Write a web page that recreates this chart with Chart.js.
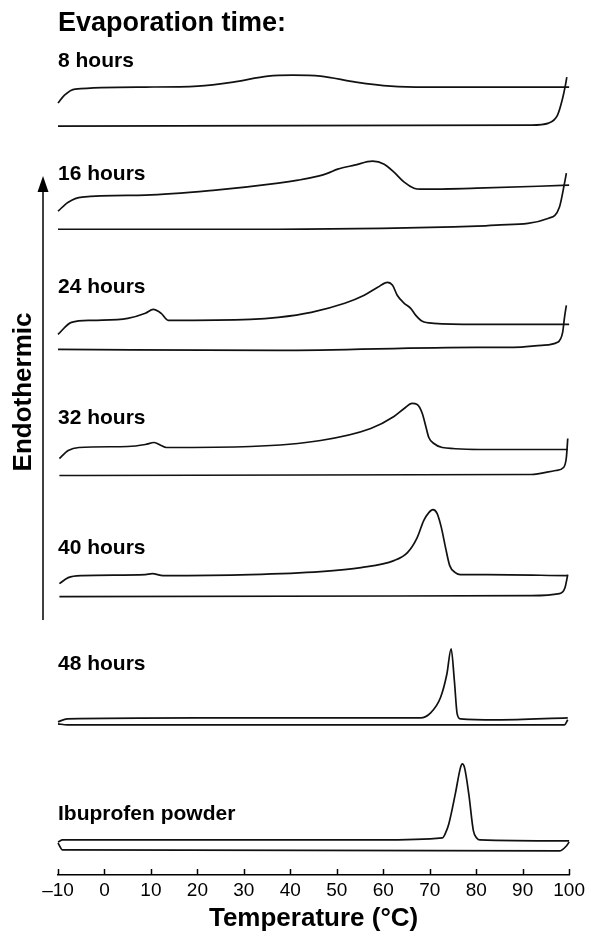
<!DOCTYPE html>
<html>
<head>
<meta charset="utf-8">
<script src="https://cdn.jsdelivr.net/npm/chart.js@4.4.1/dist/chart.umd.min.js"></script>
<style>
  html, body { margin: 0; padding: 0; background: #fff; }
  #wrap { width: 591px; height: 941px; position: relative; }
</style>
</head>
<body>
<div id="wrap"><canvas id="dsc"></canvas></div>
<script>
// DSC thermograms, [temperature (°C), heat flow (offset, a.u.)]
// heating run (upper trace) and baseline/cooling run (lower trace)
const h8Heat = [[-10,77.8],[-8.6,78.6],[-6.3,79.2],[8.8,79.4],[20.1,79.5],[27.7,79.9],[35.2,80.5],[40.5,80.6],[46.5,80.5],[54.1,79.9],[61.6,79.5],[69.2,79.4],[100,79.4]];
const h8Base = [[-10,75.5],[91.8,75.6],[95.6,75.8],[97.5,76.6],[98.5,78.1],[99.2,79.6],[99.5,80.4]];

const h16Heat = [[-10,67.0],[-7.8,67.9],[-4.8,68.4],[8.8,68.6],[23.9,69.1],[37.4,69.8],[41.7,70.1],[46,70.5],[48.1,70.8],[50.2,71.2],[53.8,71.6],[57.7,72.0],[60.2,71.7],[62.3,70.9],[64.5,69.9],[66.6,69.3],[68,69.2],[80.1,69.3],[100,69.6]];
const h16Base = [[-10,65.2],[37.4,65.2],[80.1,65.5],[84.3,65.6],[95.6,66.3],[97.9,67.4],[99,69.8],[99.4,70.8]];

const h24Heat = [[-10,54.7],[-7.1,55.9],[-2.5,56.1],[5,56.3],[8.8,56.8],[10.5,57.2],[12.2,56.8],[13.7,56.1],[31.4,56.2],[37.4,56.4],[44.5,56.9],[51.7,57.8],[55.9,58.6],[58.8,59.4],[60.9,59.9],[62,59.6],[63,58.6],[64.5,57.8],[65.9,57.3],[67,56.6],[68.4,56.0],[70.9,55.8],[80.1,55.7],[100,55.7]];
const h24Base = [[-10,53.2],[37.4,53.1],[80.1,53.4],[88,53.4],[94.1,53.6],[97.5,53.9],[98.6,54.9],[99,56.4],[99.4,57.6]];

const h32Heat = [[-9.7,42.3],[-7.8,43.1],[-5.5,43.4],[5,43.5],[8.8,43.7],[10.7,43.9],[12.2,43.6],[13.3,43.4],[31.4,43.5],[46.5,44.1],[57.3,45.3],[62.3,46.5],[64.5,47.3],[66.2,47.8],[67.3,47.7],[68.4,46.8],[69.1,45.6],[69.8,44.4],[70.9,43.8],[72.7,43.4],[82.3,43.2],[99.7,43.2]];
const h32Base = [[-9.7,40.6],[91.8,40.7],[97.1,41.1],[98.8,41.4],[99.4,42.4],[99.7,44.3]];

const h40Heat = [[-9.7,29.8],[-7.8,30.4],[-4.8,30.6],[8.8,30.7],[10.3,30.8],[12.6,30.6],[31.4,30.7],[46.5,31.0],[55.2,31.4],[62.3,32.1],[65.2,32.9],[67.3,34.4],[68.7,36.1],[69.8,36.9],[70.7,37.2],[71.6,36.8],[72.5,35.4],[73.4,33.4],[74.3,31.6],[75.5,30.9],[76.6,30.7],[82.3,30.7],[99.7,30.6]];
const h40Base = [[-9.7,28.5],[91.8,28.6],[97.9,28.8],[99.1,29.4],[99.7,30.7]];

const h48Heat = [[-10,16.0],[-8,16.3],[20,16.4],[61.6,16.4],[68,16.4],[70.2,16.9],[72.3,18.4],[73.7,20.8],[74.6,23.3],[75.3,20.1],[75.9,16.8],[76.6,16.3],[84.4,16.2],[99.7,16.4]];
const h48Base = [[-10,15.8],[-8,15.7],[99,15.7],[99.7,16.2]];

const ibuHeat = [[-10,4.0],[-9,4.2],[58.8,4.2],[72.7,4.4],[73.4,4.9],[74.1,5.8],[75.5,8.8],[76.6,11.4],[77,11.8],[77.5,11.4],[78.4,8.8],[79.4,5.1],[80.1,4.4],[80.8,4.2],[100,4.1]];
const ibuBase = [[-10,3.9],[-9,3.2],[97.9,3.1],[99.4,3.6],[100,4.0]];

const traceLabels = ['8 hours', '16 hours', '24 hours', '32 hours', '40 hours', '48 hours', 'Ibuprofen powder'];
const labelLevels = [81.45, 70.1, 58.8, 45.7, 32.8, 21.2, 6.15];
const xTicksMin = -10;
const xTicksMax = 100;

const curves = [h8Heat, h8Base, h16Heat, h16Base, h24Heat, h24Base, h32Heat, h32Base, h40Heat, h40Base, h48Heat, h48Base, ibuHeat, ibuBase];

const FONT = '"Liberation Sans", Arial, Helvetica, sans-serif';

// labels, arrow and inward tick marks
const annotations = {
  id: 'annotations',
  afterDraw(chart) {
    const ctx = chart.ctx;
    const xs = chart.scales.x;
    const ys = chart.scales.y;
    const area = chart.chartArea;
    ctx.save();
    ctx.fillStyle = '#000';
    ctx.strokeStyle = '#000';

    // tick marks pointing up
    ctx.lineWidth = 1.5;
    xs.ticks.forEach(t => {
      const px = Math.round(xs.getPixelForValue(t.value)) + 0.5;
      ctx.beginPath();
      ctx.moveTo(px, area.bottom);
      ctx.lineTo(px, area.bottom - 6);
      ctx.stroke();
    });

    // heading
    ctx.textAlign = 'left';
    ctx.textBaseline = 'alphabetic';
    ctx.font = 'bold 27px ' + FONT;
    ctx.fillText('Evaporation time:', area.left, 31);

    // trace labels
    ctx.font = 'bold 21px ' + FONT;
    traceLabels.forEach((txt, i) => {
      ctx.fillText(txt, area.left, ys.getPixelForValue(labelLevels[i]));
    });

    // Endothermic arrow
    const ax = 43;
    ctx.lineWidth = 1.5;
    ctx.beginPath();
    ctx.moveTo(ax, 620);
    ctx.lineTo(ax, 186);
    ctx.stroke();
    ctx.beginPath();
    ctx.moveTo(ax, 176);
    ctx.lineTo(ax - 5.5, 192);
    ctx.lineTo(ax + 5.5, 192);
    ctx.closePath();
    ctx.fill();

    ctx.translate(24, 392);
    ctx.rotate(-Math.PI / 2);
    ctx.textAlign = 'center';
    ctx.textBaseline = 'middle';
    ctx.font = 'bold 26px ' + FONT;
    ctx.fillText('Endothermic', 0, 0);
    ctx.restore();
  }
};

new Chart(document.getElementById('dsc'), {
  type: 'line',
  data: {
    datasets: curves.map(c => ({
      data: c.map(p => ({ x: p[0], y: p[1] })),
      borderColor: '#111',
      borderWidth: 1.7,
      pointRadius: 0,
      fill: false,
      cubicInterpolationMode: 'monotone',
      clip: false
    }))
  },
  options: {
    responsive: true,
    maintainAspectRatio: false,
    animation: false,
    layout: { padding: { left: 58, right: 18, top: 41, bottom: 9 } },
    plugins: {
      legend: { display: false },
      tooltip: { enabled: false }
    },
    scales: {
      x: {
        type: 'linear',
        min: xTicksMin,
        max: xTicksMax,
        grid: { display: false, drawTicks: false },
        border: { display: true, color: '#000', width: 1.5 },
        ticks: {
          stepSize: 10,
          padding: 6,
          color: '#000',
          font: { family: FONT, size: 19, lineHeight: 1 },
          callback: v => (v < 0 ? '\u2013' + Math.abs(v) : String(v))
        },
        title: {
          display: true,
          text: 'Temperature (°C)',
          color: '#000',
          padding: { top: 0, bottom: 0 },
          font: { family: FONT, size: 26, weight: 'bold', lineHeight: 1 }
        }
      },
      y: {
        display: false,
        min: 0.7,
        max: 84
      }
    }
  },
  plugins: [annotations]
});
</script>
</body>
</html>
